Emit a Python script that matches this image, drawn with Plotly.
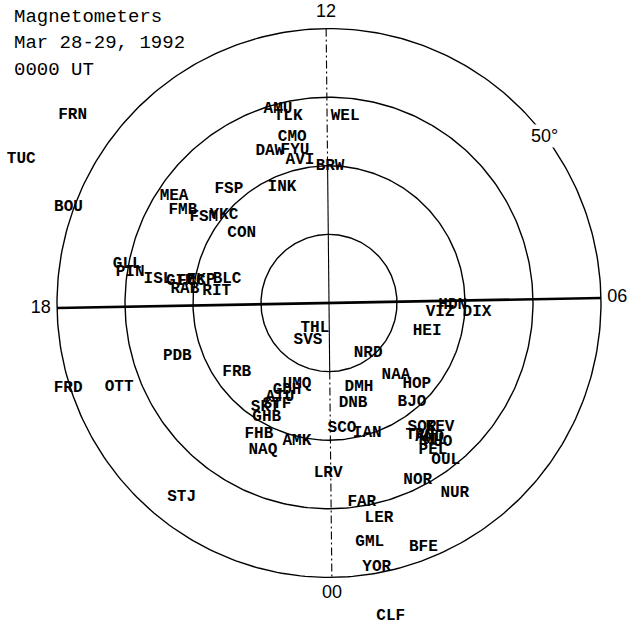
import numpy as np
import plotly.graph_objects as go

# ---------------- data ----------------
station_names = [
    "AMU", "TLK", "WEL", "CMO", "DAW", "FYU", "AVI", "BRW", "INK", "FSP",
    "FSM", "YKC", "CON", "MEA", "FMB", "FRN", "TUC", "BOU", "GLL", "PIN",
    "ISL", "GIM", "FCC", "EKP", "BLC", "RAB", "RIT", "PDB", "FRB", "FRD",
    "OTT", "STJ", "THL", "SVS", "NRD", "UMQ", "GDH", "ATU", "STF", "SKT",
    "GHB", "FHB", "NAQ", "AMK", "SCO", "IAN", "DMH", "DNB", "NAA", "HOP",
    "BJO", "SOR", "KEV", "TRO", "AND", "KIL", "MUO", "PEL", "OUL", "HEI",
    "VIZ", "HDN", "DIX", "LRV", "NOR", "NUR", "FAR", "LER", "GML", "BFE",
    "YOR", "CLF",
]
station_lat = [
    60.7, 62.1, 62.6, 65.2, 66.2, 67.1, 68.7, 70.0, 71.7, 67.8,
    67.7, 69.9, 73.6, 62.4, 64.6, 43.4, 40.1, 49.2, 59.8, 60.4,
    64.6, 67.9, 69.5, 70.9, 74.6, 68.7, 73.4, 66.4, 73.1, 49.7,
    56.8, 54.4, 85.8, 83.8, 80.7, 77.3, 75.9, 74.5, 73.4, 72.2,
    71.0, 68.3, 66.5, 69.3, 71.7, 70.2, 77.0, 75.0, 75.6, 72.5,
    71.1, 67.3, 65.6, 66.6, 65.5, 64.9, 64.2, 63.7, 61.4, 75.0,
    73.6, 71.8, 68.2, 65.2, 61.1, 56.7, 60.6, 57.8, 54.6, 51.8,
    50.9, 43.5,
]
station_mlt = [
    12.99, 12.83, 11.67, 12.84, 13.43, 12.84, 12.77, 11.97, 13.48, 14.77,
    15.71, 15.35, 15.43, 15.71, 15.85, 15.60, 16.34, 16.66, 17.28, 17.41,
    17.47, 17.44, 17.40, 17.33, 17.12, 17.63, 17.60, 19.27, 20.44, 19.19,
    19.44, 21.50, 22.03, 22.01, 2.55, 22.55, 22.27, 22.15, 22.17, 21.88,
    22.08, 22.11, 22.37, 23.12, 0.40, 1.10, 1.32, 0.91, 2.88, 3.17,
    2.68, 2.47, 2.80, 2.32, 2.48, 2.50, 2.56, 2.37, 2.46, 4.95,
    5.69, 5.94, 5.77, 23.98, 1.79, 2.25, 0.63, 0.88, 0.65, 1.42,
    0.69, 0.75,
]

circle_lats = [80, 70, 60, 50]
hour_labels = ["12", "06", "00", "18"]
hour_mlt = [12, 6, 0, 18]
hour_label_lat = 47.6
lat_label = "50\u00b0"
lat_label_lat = 50
lat_label_mlt = 8.5

title_lines = ["Magnetometers", "Mar 28-29, 1992", "0000 UT"]

# ---------------- helpers ----------------
ROT_H = 1.05  # slight tilt of the 18-06 line in the original scan (degrees)
ROT_V = 0.6   # slight tilt of the 12-00 line


def proj(lat, mlt, rot=0.0):
    r = 90.0 - np.asarray(lat, dtype=float)
    th = np.radians((12.0 - np.asarray(mlt, dtype=float)) * 15.0 - rot)
    return r * np.sin(th), r * np.cos(th)


fig = go.Figure()

# latitude circles
mlt_path = np.linspace(0, 24, 361)
for lat in circle_lats:
    cx, cy = proj(np.full_like(mlt_path, lat), mlt_path)
    fig.add_trace(go.Scatter(x=cx, y=cy, mode="lines",
                             line=dict(color="black", width=1.4),
                             hoverinfo="skip", showlegend=False))

outer = min(circle_lats)
# 18 - 06 line (thick)
lx, ly = proj([outer, outer], [18, 6], ROT_H)
fig.add_trace(go.Scatter(x=lx, y=ly, mode="lines",
                         line=dict(color="black", width=2.6),
                         hoverinfo="skip", showlegend=False))

# 12 - 00 line: dash-dot outside, solid near the pole
seg_specs = [
    ([outer, 70], [12, 12], "8px,3px,2px,3px"),
    ([70, 90], [12, 12], "solid"),
    ([90, 80], [0, 0], "solid"),
    ([80, outer], [0, 0], "8px,3px,2px,3px"),
]
for lats_seg, mlts_seg, dash in seg_specs:
    sx, sy = proj(lats_seg, mlts_seg, ROT_V)
    fig.add_trace(go.Scatter(x=sx, y=sy, mode="lines",
                             line=dict(color="black", width=1.1, dash=dash),
                             hoverinfo="skip", showlegend=False))

# station labels
px, py = proj(station_lat, station_mlt)
fig.add_trace(go.Scatter(
    x=px, y=py, mode="text", text=station_names,
    textposition="middle center", cliponaxis=False,
    textfont=dict(family="Liberation Mono", size=16, color="black", weight="bold"),
    hoverinfo="text", showlegend=False))

# hour labels
hour_rot = [ROT_V, ROT_H, ROT_V, ROT_H]
hx, hy = [], []
for m, rr in zip(hour_mlt, hour_rot):
    a, b = proj(hour_label_lat, m, rr)
    hx.append(float(a))
    hy.append(float(b))
fig.add_trace(go.Scatter(
    x=hx, y=hy, mode="text", text=hour_labels,
    textposition="middle center", cliponaxis=False,
    textfont=dict(family="Liberation Sans", size=18, color="black"),
    hoverinfo="skip", showlegend=False))

# 50 degree label on the outer circle
ax_, ay_ = proj([lat_label_lat], [lat_label_mlt])
fig.add_annotation(x=float(ax_[0]), y=float(ay_[0]), text=lat_label,
                   showarrow=False, bgcolor="white",
                   font=dict(family="Liberation Sans", size=18, color="black"))

# title block
for i, line in enumerate(title_lines):
    fig.add_annotation(x=12 / 632, y=1 - (17 + i * 26.5) / 628,
                       xref="paper", yref="paper", xanchor="left", yanchor="middle",
                       text=line, showarrow=False,
                       font=dict(family="Liberation Mono", size=19, color="black"))

PXX, PXY = 6.8, 6.86
CX, CY = 329, 303
fig.update_layout(
    width=632, height=628,
    margin=dict(l=0, r=0, t=0, b=0),
    paper_bgcolor="white", plot_bgcolor="white",
    xaxis=dict(range=[-CX / PXX, (632 - CX) / PXX], visible=False, fixedrange=True),
    yaxis=dict(range=[-(628 - CY) / PXY, CY / PXY], visible=False, fixedrange=True),
    showlegend=False,
)

fig.write_html(
    "out.html",
    config={"displayModeBar": False},
    post_script="document.body.style.margin='0px';document.body.style.overflow='hidden';",
)
